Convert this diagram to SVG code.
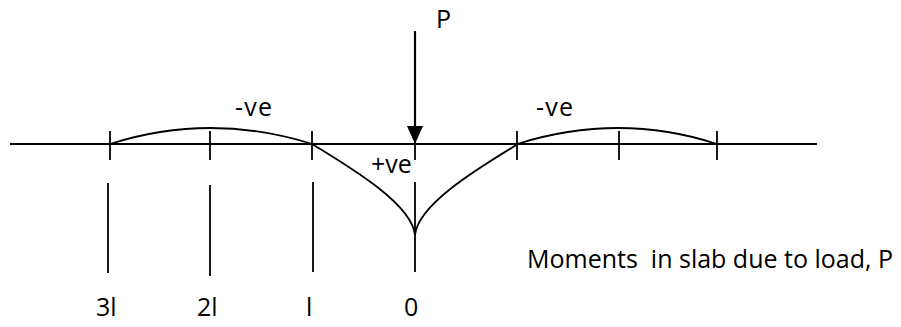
<svg xmlns="http://www.w3.org/2000/svg" width="901" height="327" viewBox="0 0 901 327">
<style>
.ln{stroke:#000;stroke-width:1.8;fill:none}
.t{font-family:"Open Sans","Liberation Sans",Arial,sans-serif;font-size:25px;fill:#000}
</style>
<rect width="901" height="327" fill="#fff"/>
<g id="axis">
<line class="ln" x1="10" y1="144" x2="817" y2="144"/>
</g>
<g id="ticks">
<line class="ln" x1="110" y1="131" x2="110" y2="160"/>
<line class="ln" x1="210" y1="131" x2="210" y2="160"/>
<line class="ln" x1="312" y1="131" x2="312" y2="160"/>
<line class="ln" x1="415" y1="131" x2="415" y2="160"/>
<line class="ln" x1="517" y1="131" x2="517" y2="160"/>
<line class="ln" x1="619" y1="131" x2="619" y2="160"/>
<line class="ln" x1="717" y1="131" x2="717" y2="160"/>
</g>
<g id="moment-curves">
<path class="ln" d="M110,144 Q210,112 312,144"/>
<path class="ln" d="M517,144 Q619,112 717,144"/>
<path class="ln" d="M312,144 C355,170 412,205 415,235"/>
<path class="ln" d="M518,144 C475,170 418,205 415,235"/>
</g>
<g id="load-P">
<line x1="415" y1="31" x2="415" y2="128" stroke="#000" stroke-width="2.2"/>
<polygon points="407,126 423,126 415,144" fill="#000"/>
<text class="t" x="436" y="28">P</text>
</g>
<g id="section-lines">
<line class="ln" x1="108" y1="183" x2="108" y2="273"/>
<line class="ln" x1="210" y1="185" x2="210" y2="276"/>
<line class="ln" x1="313" y1="182" x2="313" y2="272"/>
<line class="ln" x1="415" y1="182" x2="415" y2="272"/>
</g>
<g id="labels">
<text class="t" x="235" y="116" textLength="37">-ve</text>
<text class="t" x="536" y="116" textLength="37">-ve</text>
<text class="t" x="371" y="173">+ve</text>
<text class="t" x="96" y="316">3l</text>
<text class="t" x="197" y="316">2l</text>
<text class="t" x="306" y="316">l</text>
<text class="t" x="404" y="316">0</text>
<text class="t" x="527" y="268" textLength="366" xml:space="preserve">Moments  in slab due to load, P</text>
</g>
</svg>
